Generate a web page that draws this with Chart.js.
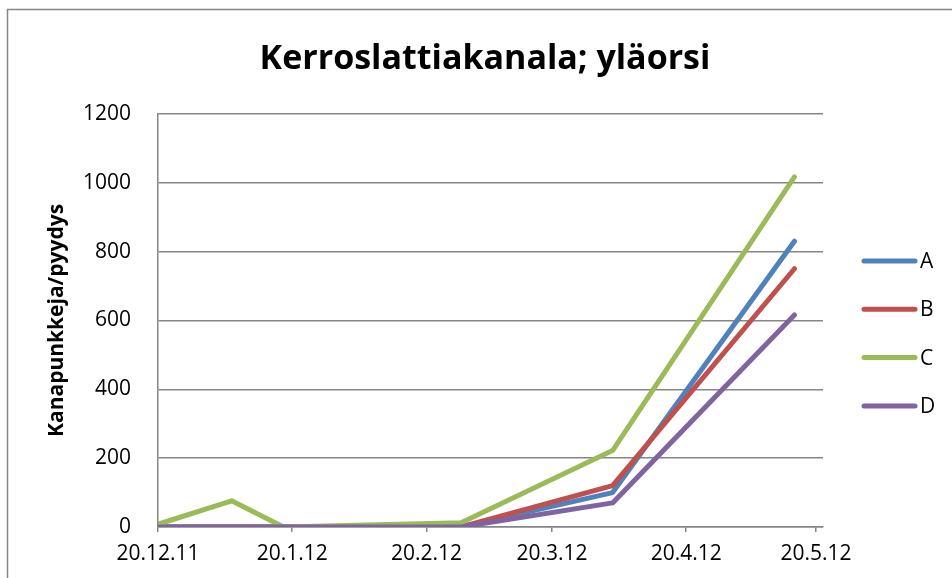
<!DOCTYPE html>
<html><head><meta charset="utf-8">
<script src="https://cdn.jsdelivr.net/npm/chart.js@4.4.1/dist/chart.umd.min.js"></script>
<style>html,body{margin:0;padding:0;background:#fff}#wrap{width:952px;height:578px;position:relative}</style>
</head><body><div id="wrap"><canvas id="c"></canvas></div>
<script>
// ---- data ----
const dates = ['2011-12-20','2012-01-06','2012-01-18','2012-02-28','2012-04-03','2012-05-15'];
const seriesNames = ['A','B','C','D'];
const seriesA = [0, 0, 0, 0, 100, 830];
const seriesB = [0, 0, 0, 0, 120, 750];
const seriesC = [8, 76, 0, 12, 222, 1017];
const seriesD = [0, 0, 0, 0, 70, 616];
const tickDates = ['2011-12-20','2012-01-20','2012-02-20','2012-03-20','2012-04-20','2012-05-20'];
const tickLabels = ['20.12.11','20.1.12','20.2.12','20.3.12','20.4.12','20.5.12'];
const axisEndDate = '2012-05-21';
const yTicks = [0, 200, 400, 600, 800, 1000, 1200];
const yTickLabels = ['0', '200', '400', '600', '800', '1000', '1200'];
const titleText = 'Kerroslattiakanala; yläorsi';
const yTitleText = 'Kanapunkkeja/pyydys';
const colors = ['#4F81BD', '#C0504D', '#9BBB59', '#8064A2'];

const DAY = 86400000;
const origin = Date.parse(tickDates[0]);
const toDay = d => (Date.parse(d) - origin) / DAY;
const xDays = dates.map(toDay);
const tickDays = tickDates.map(toDay);

const allSeries = [seriesA, seriesB, seriesC, seriesD];
const datasets = allSeries.map((s, i) => ({
  label: seriesNames[i],
  data: s.map((v, j) => ({x: xDays[j], y: v})),
  borderColor: colors[i],
  backgroundColor: colors[i],
  borderWidth: 5,
  borderCapStyle: 'round',
  borderJoinStyle: 'round',
  pointRadius: 0,
  tension: 0,
  order: 4 - i
}));

const FONT = "'Open Sans', 'Liberation Sans', sans-serif";
const GRID = '#868686';

const framePlugin = {
  id: 'frame',
  beforeDraw(chart) {
    const ctx = chart.ctx;
    ctx.save();
    ctx.fillStyle = '#fff';
    ctx.fillRect(0, 0, chart.width, chart.height);
    ctx.strokeStyle = GRID;
    ctx.lineWidth = 1.5;
    ctx.beginPath();
    ctx.moveTo(7.5, chart.height);
    ctx.lineTo(7.5, 9.5);
    ctx.lineTo(chart.width, 9.5);
    ctx.stroke();
    ctx.restore();
  },
  afterDraw(chart) {
    // legend on the right
    const ctx = chart.ctx;
    const ds = chart.data.datasets;
    const x0 = 864, x1 = 915, startY = 261, step = 48.3;
    ctx.save();
    ctx.font = "21px " + FONT;
    ctx.textBaseline = 'middle';
    ds.forEach((d, i) => {
      const y = startY + i * step;
      ctx.strokeStyle = d.borderColor;
      ctx.lineWidth = 5;
      ctx.lineCap = 'round';
      ctx.beginPath();
      ctx.moveTo(x0, y);
      ctx.lineTo(x1, y);
      ctx.stroke();
      ctx.fillStyle = '#000';
      ctx.fillText(d.label, 920, y + 1);
    });
    ctx.restore();
  }
};

new Chart(document.getElementById('c'), {
  type: 'line',
  data: {datasets},
  options: {
    responsive: true,
    maintainAspectRatio: false,
    animation: false,
    layout: {padding: {left: 18, right: 0, top: 0, bottom: 0}},
    plugins: {
      legend: {display: false},
      tooltip: {enabled: false},
      title: {
        display: true,
        text: titleText,
        color: '#000',
        font: {family: FONT, size: 34, weight: 'bold', lineHeight: 1.2},
        padding: {top: 39, bottom: 34}
      }
    },
    scales: {
      x: {
        type: 'linear',
        min: 0,
        max: toDay(axisEndDate) + 0.6,
        afterBuildTicks: s => { s.ticks = tickDays.map(v => ({value: v})); },
        afterFit: s => { s.height = 51; },
        ticks: {
          autoSkip: false,
          maxRotation: 0,
          color: '#000',
          font: {family: FONT, size: 21},
          padding: 9,
          callback: (v, i) => tickLabels[i]
        },
        grid: {drawOnChartArea: false, drawTicks: true, tickLength: 5, color: GRID, lineWidth: 1.5},
        border: {color: GRID, width: 1.5}
      },
      y: {
        min: 0,
        max: 1200,
        afterBuildTicks: s => { s.ticks = yTicks.map(v => ({value: v})); },
        afterFit: s => { s.width = 140; },
        ticks: {color: '#000', font: {family: FONT, size: 21}, padding: 27,
          callback: (v, i) => yTickLabels[i]},
        grid: {color: GRID, lineWidth: 1.5, drawTicks: false},
        border: {color: GRID, width: 1.5},
        title: {
          display: true,
          text: yTitleText,
          color: '#000',
          font: {family: FONT, size: 21, weight: 'bold'},
          padding: {top: 26, bottom: 0}
        }
      },
      yRight: {
        position: 'right',
        display: true,
        ticks: {display: false},
        grid: {display: false},
        border: {display: false},
        afterFit: s => { s.width = 129; }
      }
    }
  },
  plugins: [framePlugin]
});
</script>
</body></html>
